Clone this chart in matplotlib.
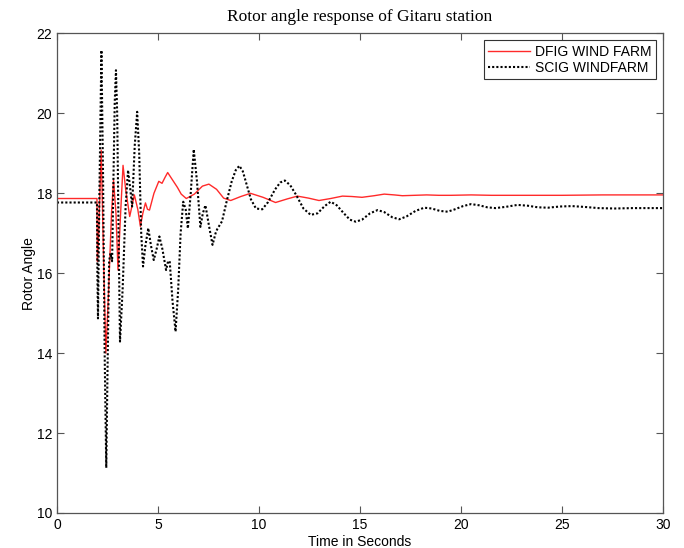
import matplotlib
matplotlib.use("Agg")
import matplotlib.pyplot as plt

title = "Rotor angle response of Gitaru station"
xlabel = "Time in Seconds"
ylabel = "Rotor Angle"
dfig_label = "DFIG WIND FARM"
scig_label = "SCIG WINDFARM"

scig_t = [0, 1.98, 2.0, 2.03, 2.1, 2.2, 2.28, 2.36, 2.44, 2.5, 2.58, 2.65, 2.73, 2.8, 2.86,
          2.92, 2.98, 3.05, 3.12, 3.25, 3.4, 3.52, 3.63, 3.72, 3.85, 3.97, 4.07, 4.17, 4.26,
          4.38, 4.52, 4.65, 4.79, 4.93, 5.07, 5.22, 5.4, 5.5, 5.58, 5.72, 5.87, 6.0, 6.12,
          6.25, 6.37, 6.48, 6.62, 6.77, 6.93, 7.1, 7.22, 7.35, 7.52, 7.7, 7.85, 7.93, 8.17,
          8.4, 8.65, 8.85, 9.03, 9.2, 9.4, 9.6, 9.85, 10.16, 10.45, 10.8, 11.05, 11.28, 11.55,
          11.85, 12.2, 12.56, 12.9, 13.25, 13.55, 13.85, 14.2, 14.5, 14.79, 15.1, 15.5, 15.87,
          16.2, 16.6, 16.94, 17.3, 17.75, 18.18, 18.55, 18.95, 19.34, 19.7, 20.1, 20.5, 20.9,
          21.3, 21.7, 22.2, 22.8, 23.3, 23.8, 24.3, 24.9, 25.5, 26.1, 26.8, 27.6, 28.5, 29.3, 30]
scig_v = [17.77, 17.77, 16.0, 14.87, 18.0, 21.58, 18.5, 14.0, 11.13, 13.5, 16.3, 16.5, 16.3,
          18.5, 20.3, 21.08, 20.0, 17.0, 14.29, 15.6, 17.7, 18.58, 18.1, 17.67, 19.2, 20.04,
          19.0, 17.0, 16.17, 16.7, 17.13, 16.7, 16.33, 16.6, 16.92, 16.6, 16.08, 16.3, 16.3,
          15.3, 14.54, 15.6, 17.0, 17.79, 17.6, 17.12, 18.0, 19.1, 18.3, 17.16, 17.5, 17.7,
          17.2, 16.71, 17.0, 17.1, 17.3, 17.8, 18.3, 18.58, 18.69, 18.55, 18.2, 17.85, 17.62,
          17.6, 17.78, 18.1, 18.27, 18.32, 18.2, 17.95, 17.62, 17.46, 17.5, 17.68, 17.79,
          17.7, 17.5, 17.34, 17.29, 17.34, 17.5, 17.58, 17.53, 17.4, 17.35, 17.42, 17.56,
          17.64, 17.62, 17.56, 17.54, 17.6, 17.68, 17.73, 17.7, 17.65, 17.63, 17.66, 17.71,
          17.69, 17.65, 17.64, 17.67, 17.68, 17.66, 17.63, 17.62, 17.63, 17.63, 17.63]

dfig_t = [0, 1.98, 2.0, 2.05, 2.19, 2.3, 2.42, 2.55, 2.7, 2.8, 2.92, 3.02, 3.15, 3.27, 3.4,
          3.6, 3.72, 3.83, 4.0, 4.13, 4.25, 4.38, 4.48, 4.58, 4.8, 5.04, 5.2, 5.35, 5.48, 5.7,
          5.96, 6.15, 6.4, 6.8, 7.2, 7.52, 7.9, 8.25, 8.6, 9.1, 9.58, 10.2, 10.82, 11.4, 11.9,
          12.45, 12.97, 13.55, 14.13, 14.6, 15.1, 15.7, 16.2, 16.7, 17.1, 17.7, 18.3, 18.9,
          19.5, 20.5, 21.5, 23, 25, 27, 30]
dfig_v = [17.87, 17.87, 16.3, 16.8, 19.08, 16.5, 14.0, 15.5, 17.5, 18.33, 17.5, 16.08, 17.5,
          18.7, 18.1, 17.42, 17.7, 17.96, 17.6, 17.17, 17.5, 17.76, 17.6, 17.58, 18.0, 18.3,
          18.25, 18.4, 18.52, 18.35, 18.15, 17.98, 17.87, 17.98, 18.18, 18.23, 18.1, 17.88,
          17.82, 17.92, 18.0, 17.9, 17.77, 17.86, 17.93, 17.88, 17.82, 17.87, 17.93, 17.92,
          17.9, 17.94, 17.98, 17.96, 17.94, 17.95, 17.96, 17.95, 17.95, 17.96, 17.95, 17.95,
          17.95, 17.96, 17.96]

xticks = [0, 5, 10, 15, 20, 25, 30]
yticks = [10, 12, 14, 16, 18, 20, 22]

fig = plt.figure(figsize=(6.84, 5.48), dpi=100)
ax = fig.add_axes([0.0833, 0.0639, 0.886, 0.875])

ax.plot(dfig_t, dfig_v, color="#ff2a2a", lw=1.0, label=dfig_label)
ax.plot(scig_t, scig_v, color="black", lw=1.5, linestyle=(0, (1, 1)), label=scig_label)

ax.set_xlim(0, 30)
ax.set_ylim(10, 22)
ax.set_xticks(xticks)
ax.set_yticks(yticks)
ax.tick_params(direction="in", top=True, right=True, length=5, width=0.8,
               labelsize=10, color="#555555")
for lab in ax.get_xticklabels() + ax.get_yticklabels():
    lab.set_fontfamily("Liberation Sans")
for s in ax.spines.values():
    s.set_color("#555555")
    s.set_linewidth(0.9)

ax.set_xlabel(xlabel, fontsize=10, family="Liberation Sans", labelpad=2)
ax.set_ylabel(ylabel, fontsize=10, family="Liberation Sans", labelpad=0)
ax.set_title(title, fontsize=12.5, family="Liberation Serif", pad=9)

leg = ax.legend(loc="upper right", fancybox=False, edgecolor="#333333", framealpha=1,
                prop={"family": "Liberation Sans", "size": 10}, handlelength=3.0,
                borderpad=0.3, labelspacing=0.15, handletextpad=0.4,
                bbox_to_anchor=(1.0, 1.0))
leg.get_frame().set_linewidth(0.8)

fig.savefig("out.png", dpi=100)
